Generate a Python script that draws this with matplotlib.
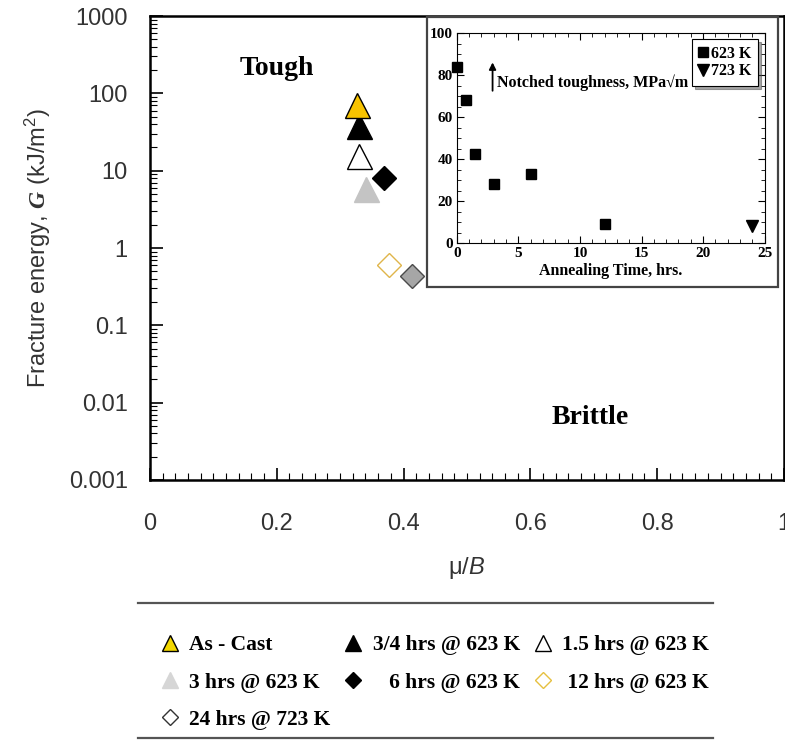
import numpy as np
import matplotlib.pyplot as plt
from matplotlib.lines import Line2D
from matplotlib.patches import Rectangle
from matplotlib.ticker import MultipleLocator, LogLocator, NullFormatter, FixedLocator

plt.rcParams['font.family'] = ['Liberation Sans', 'DejaVu Sans']
plt.rcParams['mathtext.fontset'] = 'custom'
plt.rcParams['mathtext.rm'] = 'Liberation Sans'
plt.rcParams['mathtext.it'] = 'Liberation Sans:italic'
plt.rcParams['mathtext.bf'] = 'Liberation Sans:bold'
plt.rcParams['mathtext.bfit'] = 'Liberation Serif:italic:bold'

SERIF = ['Liberation Serif', 'DejaVu Serif']

# main plot: fracture energy vs mu/B
labels = ['As - Cast', '3/4 hrs @ 623 K', '1.5 hrs @ 623 K', '3 hrs @ 623 K',
          '6 hrs @ 623 K', '12 hrs @ 623 K', '24 hrs @ 723 K']
mu_B = [0.326, 0.330, 0.330, 0.341, 0.369, 0.377, 0.413]
G = [70, 38, 15.5, 5.8, 8.0, 0.60, 0.43]

# inset: notched toughness vs annealing time
t_623 = [0, 0.75, 1.5, 3, 6, 12]
k_623 = [84, 68, 42.5, 28, 33, 9]
t_723 = [24]
k_723 = [8]

x_ticks = [0, 0.2, 0.4, 0.6, 0.8, 1]
x_ticklabels = ['0', '0.2', '0.4', '0.6', '0.8', '1']
y_ticks = [0.001, 0.01, 0.1, 1, 10, 100, 1000]
y_ticklabels = ['0.001', '0.01', '0.1', '1', '10', '100', '1000']

# marker, face, edge, size (plot)
styles = [
    ('^', '#f7c300', 'black', 18),
    ('^', 'black', 'black', 18),
    ('^', 'white', 'black', 18),
    ('^', '#c4c4c4', '#c4c4c4', 18),
    ('D', 'black', 'black', 12),
    ('D', 'white', '#e0b54a', 12),
    ('D', '#a6a6a6', '#4a4a4a', 12),
]
draw_order = [1, 0, 2, 3, 4, 5, 6]

fig = plt.figure(figsize=(7.85, 7.42), dpi=100)
ax = fig.add_axes([0.191, 0.3531, 0.8076, 0.6253])

for i in draw_order:
    m, fc, ec, ms = styles[i]
    ax.plot([mu_B[i]], [G[i]], m, markerfacecolor=fc, markeredgecolor=ec,
            markersize=ms, markeredgewidth=1.0, zorder=3 + (1 if i == 0 else 0))

ax.set_yscale('log')
ax.set_xlim(0, 1)
ax.set_ylim(0.001, 1000)
ax.xaxis.set_major_locator(FixedLocator(x_ticks))
ax.set_xticklabels(x_ticklabels)
ax.xaxis.set_minor_locator(MultipleLocator(0.02))
ax.yaxis.set_major_locator(FixedLocator(y_ticks))
ax.set_yticklabels(y_ticklabels)
ax.yaxis.set_minor_locator(LogLocator(base=10, subs=np.arange(2, 10), numticks=20))
ax.yaxis.set_minor_formatter(NullFormatter())
ax.tick_params(which='both', direction='in', labelsize=17, labelcolor='#333333')
ax.tick_params(axis='x', which='both', pad=24)
ax.tick_params(axis='y', which='both', pad=16)
ax.tick_params(which='major', length=9, width=1.2)
ax.tick_params(which='minor', length=5, width=0.8)
for s in ax.spines.values():
    s.set_linewidth(1.8)

ax.set_xlabel('μ/$\\mathit{B}$', fontsize=17, color='#333333', labelpad=14)
ax.set_ylabel('Fracture energy, $\\mathbfit{G}$ (kJ/m$^2$)', fontsize=17,
              color='#333333', labelpad=11)

ax.text(0.2, 210, 'Tough', fontsize=20, fontweight='bold', family=SERIF,
        ha='center', va='center')
ax.text(0.694, 0.0065, 'Brittle', fontsize=20, fontweight='bold', family=SERIF,
        ha='center', va='center')

# inset frame
fig.patches.append(Rectangle((0.544, 0.613), 0.447, 0.364, transform=fig.transFigure,
                             facecolor='white', edgecolor='#444444', lw=1.6, zorder=1))

ax2 = fig.add_axes([0.582, 0.6725, 0.392, 0.283])
ax2.set_zorder(2)
ax2.plot(t_623, k_623, 's', color='black', markersize=7, label='623 K', clip_on=False)
ax2.plot(t_723, k_723, 'v', color='black', markersize=8, label='723 K', clip_on=False)
ax2.set_xlim(0, 25)
ax2.set_ylim(0, 100)
ax2.xaxis.set_major_locator(MultipleLocator(5))
ax2.xaxis.set_minor_locator(MultipleLocator(1))
ax2.yaxis.set_major_locator(MultipleLocator(20))
ax2.yaxis.set_minor_locator(MultipleLocator(5))
ax2.tick_params(which='both', direction='in', top=True, right=True, pad=3)
ax2.tick_params(which='major', length=5, width=0.8)
ax2.tick_params(which='minor', length=3, width=0.6)
for lab in ax2.get_xticklabels() + ax2.get_yticklabels():
    lab.set_family(SERIF)
    lab.set_fontweight('bold')
    lab.set_fontsize(11)
for s in ax2.spines.values():
    s.set_linewidth(0.8)
ax2.set_xlabel('Annealing Time, hrs.', family=SERIF, fontweight='bold',
               fontsize=11.5, labelpad=2)
ax2.annotate('', xy=(2.9, 86), xytext=(2.9, 72.5),
             arrowprops=dict(arrowstyle='-|>', color='black', lw=1.3,
                             mutation_scale=10, shrinkA=0, shrinkB=0))
ax2.text(3.3, 76.5, 'Notched toughness, MPa√m', family=SERIF, fontweight='bold',
         fontsize=11.5, ha='left', va='center')
leg2 = ax2.legend(loc='upper right', prop={'family': SERIF, 'weight': 'bold', 'size': 11.5},
                  handlelength=0.6, handletextpad=0.2, borderpad=0.4, labelspacing=0.1,
                  fancybox=False, shadow=True, framealpha=1, edgecolor='black',
                  borderaxespad=0.4)
leg2.get_frame().set_linewidth(0.8)

# bottom legend
leg_styles = [
    ('^', '#f2d700', 'black', 11),
    ('^', 'black', 'black', 11),
    ('^', 'white', 'black', 11),
    ('^', '#d6d6d6', '#d6d6d6', 11),
    ('D', 'black', 'black', 8),
    ('D', 'white', '#e6c040', 8),
    ('D', 'white', '#333333', 8),
]
leg_labels = ['As - Cast', '3/4 hrs @ 623 K', '1.5 hrs @ 623 K', '3 hrs @ 623 K',
              '   6 hrs @ 623 K', ' 12 hrs @ 623 K', '24 hrs @ 723 K']
handles = [Line2D([], [], ls='none', marker=m, markerfacecolor=fc, markeredgecolor=ec,
                  markersize=ms, markeredgewidth=1.0) for m, fc, ec, ms in leg_styles]
order = [0, 3, 6, 1, 4, 2, 5]
fig.legend([handles[i] for i in order], [leg_labels[i] for i in order], ncol=3,
           loc='upper left', bbox_to_anchor=(0.203, 0.144), frameon=False,
           prop={'family': SERIF, 'weight': 'bold', 'size': 15.5},
           handlelength=1.0, handletextpad=0.4, columnspacing=0.55,
           labelspacing=0.8, borderpad=0, borderaxespad=0)

for yy in [0.1873, 0.0054]:
    fig.add_artist(Line2D([0.176, 0.908], [yy, yy], transform=fig.transFigure,
                          color='#555555', lw=1.6))

fig.savefig('out.png', dpi=100)
